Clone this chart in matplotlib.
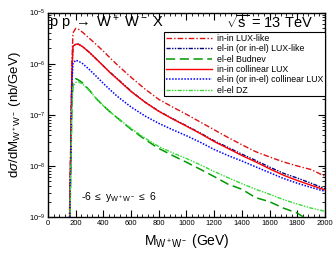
import matplotlib
matplotlib.use("Agg")
import matplotlib.pyplot as plt
from matplotlib.ticker import MultipleLocator, LogLocator, NullFormatter

plt.rcParams['font.family'] = ['Liberation Sans', 'DejaVu Sans']
plt.rcParams['mathtext.fontset'] = 'custom'
plt.rcParams['mathtext.rm'] = 'Liberation Sans'
plt.rcParams['mathtext.it'] = 'Liberation Sans:italic'
plt.rcParams['mathtext.sf'] = 'Liberation Sans'

mass = [150, 158, 165, 172, 180, 200, 220, 250, 300, 350, 400, 450, 500, 600, 700, 800,
        900, 1000, 1100, 1200, 1300, 1400, 1500, 1600, 1700, 1800, 1900, 2000]

inin_lux = [3e-10, 3e-9, 5e-8, 1e-6, 4.0e-6, 4.9e-6, 4.7e-6, 4.1e-6, 3.1e-6, 2.35e-6, 1.75e-6,
            1.28e-6, 9.5e-7, 5.4e-7, 3.2e-7, 2.0e-7, 1.42e-7, 1.02e-7, 7.2e-8, 5.1e-8, 3.6e-8,
            2.6e-8, 1.9e-8, 1.5e-8, 1.2e-8, 1.0e-8, 8.5e-9, 6.3e-9]
elin_lux = [2e-10, 2e-9, 3e-8, 6e-7, 2.2e-6, 2.4e-6, 2.4e-6, 2.15e-6, 1.65e-6, 1.22e-6, 9.0e-7,
            6.7e-7, 5.1e-7, 2.9e-7, 1.78e-7, 1.18e-7, 8.4e-8, 6.1e-8, 4.4e-8, 3.1e-8, 2.3e-8,
            1.7e-8, 1.28e-8, 9.5e-9, 7.2e-9, 5.8e-9, 4.6e-9, 3.6e-9]
elel_budnev = [1e-10, 1e-9, 1e-8, 1.5e-7, 4.2e-7, 5.1e-7, 4.8e-7, 4.2e-7, 3.0e-7, 2.05e-7, 1.5e-7,
               1.13e-7, 8.7e-8, 5.2e-8, 3.3e-8, 2.2e-8, 1.6e-8, 1.18e-8, 8.6e-9, 6.2e-9, 4.4e-9,
               3.5e-9, 2.4e-9, 2.0e-9, 1.5e-9, 1.2e-9, 8.0e-10, 6e-10]
inin_coll = [2e-10, 2e-9, 3e-8, 6e-7, 2.2e-6, 2.4e-6, 2.4e-6, 2.15e-6, 1.65e-6, 1.22e-6, 9.0e-7,
             6.6e-7, 5.0e-7, 2.85e-7, 1.77e-7, 1.17e-7, 8.3e-8, 6.0e-8, 4.3e-8, 3.0e-8, 2.2e-8,
             1.6e-8, 1.2e-8, 8.8e-9, 6.6e-9, 5.2e-9, 4.2e-9, 3.4e-9]
elin_coll = [1e-10, 1.5e-9, 2e-8, 4e-7, 1.0e-6, 1.17e-6, 1.12e-6, 1.0e-6, 7.6e-7, 5.6e-7, 4.1e-7,
             3.05e-7, 2.3e-7, 1.42e-7, 9.5e-8, 6.8e-8, 5.1e-8, 3.9e-8, 2.9e-8, 2.1e-8, 1.6e-8,
             1.25e-8, 9.6e-9, 7.4e-9, 5.7e-9, 4.6e-9, 3.8e-9, 3.2e-9]
elel_dz = [1e-10, 1e-9, 1e-8, 1.2e-7, 3.5e-7, 4.3e-7, 4.4e-7, 4.0e-7, 2.95e-7, 2.05e-7, 1.5e-7,
           1.13e-7, 8.8e-8, 5.4e-8, 3.5e-8, 2.4e-8, 1.8e-8, 1.4e-8, 1.05e-8, 7.8e-9, 5.9e-9,
           4.5e-9, 3.5e-9, 2.8e-9, 2.2e-9, 1.8e-9, 1.5e-9, 1.3e-9]

labels = ["in-in LUX-like", "el-in (or in-el) LUX-like", "el-el Budnev",
          "in-in collinear LUX", "el-in (or in-el) collinear LUX", "el-el DZ"]

fig = plt.figure(figsize=(3.36, 2.56), dpi=100)
ax = fig.add_axes([0.143, 0.152, 0.824, 0.799])

ax.plot(mass, elin_lux, color='#000080', lw=1.0, ls=(0, (3, 1, 1, 1, 1, 1)), label=labels[1], zorder=2)
ax.plot(mass, inin_lux, color='#dd1111', lw=1.0, ls=(0, (4, 1.5, 1, 1.5)), label=labels[0], zorder=3)
ax.plot(mass, elel_budnev, color='#009900', lw=1.1, ls=(0, (6, 3)), label=labels[2], zorder=3)
ax.plot(mass, inin_coll, color='#ff0000', lw=1.0, ls='-', label=labels[3], zorder=3)
ax.plot(mass, elin_coll, color='#0000ff', lw=1.1, ls=(0, (1, 1)), label=labels[4], zorder=3)
ax.plot(mass, elel_dz, color='#33dd33', lw=1.0, ls=(0, (3, 1, 1, 1, 1, 1)), label=labels[5], zorder=3)

ax.set_yscale('log')
ax.set_xlim(0, 2000)
ax.set_ylim(1e-9, 1e-5)
ax.xaxis.set_major_locator(MultipleLocator(200))
ax.xaxis.set_minor_locator(MultipleLocator(40))
ax.yaxis.set_major_locator(LogLocator(base=10, numticks=10))
ax.yaxis.set_minor_locator(LogLocator(base=10, subs=range(2, 10), numticks=20))
ax.yaxis.set_minor_formatter(NullFormatter())
ax.tick_params(which='both', direction='in', top=True, right=True, labelsize=5.5, pad=2)
ax.tick_params(which='major', length=5, width=0.8)
ax.tick_params(which='minor', length=2.5, width=0.6)
for s in ax.spines.values():
    s.set_linewidth(1.0)

ax.set_xlabel(r'M$_{\mathregular{W^+W^-}}$ (GeV)', fontsize=10, labelpad=4)
ax.set_ylabel(r'd$\sigma$/dM$_{\mathregular{W^+W^-}}$ (nb/GeV)', fontsize=9.5, labelpad=4)

ax.text(0.005, 0.995, r'p p $\rightarrow$ W$^+$ W$^-$ X', transform=ax.transAxes, fontsize=10.5,
        ha='left', va='top')
ax.text(0.955, 0.995, r'$\sqrt{\mathregular{s}}$ = 13 TeV', transform=ax.transAxes, fontsize=10.5,
        ha='right', va='top')
ax.text(0.12, 0.10, r'-6 $\leq$ y$_{\mathregular{W^+W^-}}$ $\leq$ 6', transform=ax.transAxes,
        fontsize=7.5, ha='left', va='center')

handles, labs = ax.get_legend_handles_labels()
order = [labs.index(l) for l in labels]
leg = ax.legend([handles[i] for i in order], [labs[i] for i in order],
                loc='upper right', bbox_to_anchor=(1.0, 0.903), fontsize=6.3,
                frameon=True, fancybox=False, edgecolor='black', framealpha=1,
                handlelength=5.2, handletextpad=0.6, borderpad=0.2, labelspacing=0.15,
                borderaxespad=0.0)
leg.get_frame().set_linewidth(0.8)

fig.savefig('out.png', dpi=100)
